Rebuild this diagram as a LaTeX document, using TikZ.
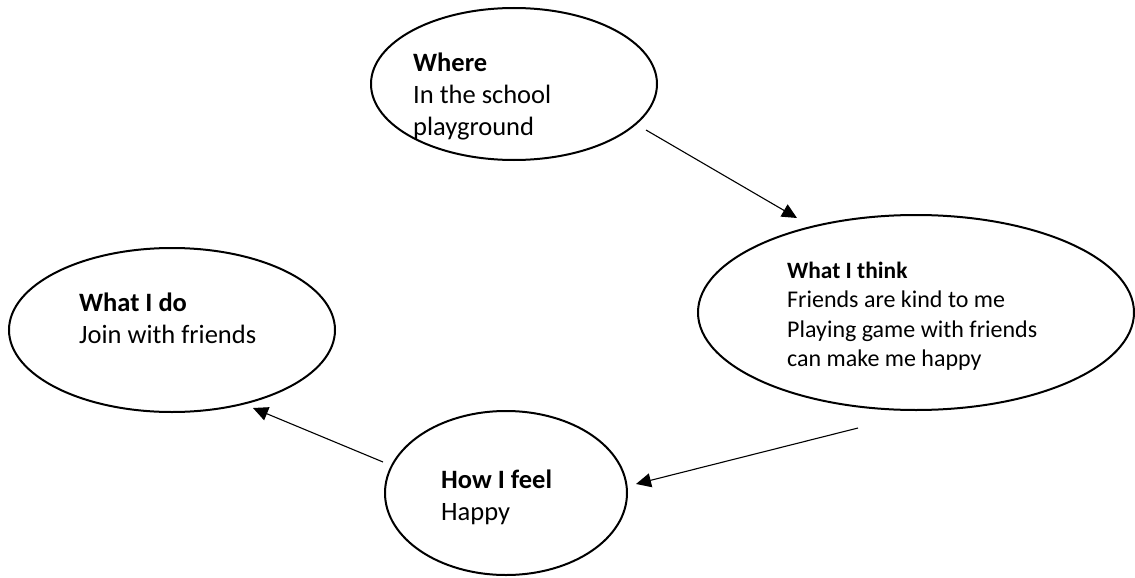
\documentclass[tikz,border=0pt]{standalone}
\usepackage{fontspec}
\setmainfont{Carlito}
\usetikzlibrary{shapes.geometric,arrows.meta}
\tikzset{
  bubble/.style={draw, ellipse, line width=2pt, inner sep=0pt},
  label/.style={anchor=base west, align=left, inner sep=0pt, font=\fontsize{26.5}{32}\selectfont},
  flow/.style={line width=1.1pt, -{Triangle[length=15pt,width=14pt]}}
}
\begin{document}
\begin{tikzpicture}[x=1pt,y=-1pt]
\useasboundingbox (0,0) rectangle (1135,578);
\node[bubble, minimum width=286pt, minimum height=152pt] (where) at (514,84) {};
\node[bubble, minimum width=436pt, minimum height=195pt] (think) at (916,312.5) {};
\node[bubble, minimum width=326pt, minimum height=164pt] (do) at (172,330) {};
\node[bubble, minimum width=242pt, minimum height=164pt] (feel) at (506,493) {};

\node[label, font=\fontsize{26.5}{31.5}\selectfont] (twhere) at (413,135) {\textbf{Where}\\In the school\\playground};
\node[label, font=\fontsize{24}{29.5}\selectfont] (tthink) at (787,366.8) {\textbf{\fontsize{23.4}{29.5}\selectfont What I think}\\Friends are kind to me\\Playing game with friends\\can make me happy};
\node[label] (tdo) at (79,343) {\textbf{What I do}\\Join with friends};
\node[label] (tfeel) at (441,520) {\textbf{How I feel}\\Happy};

\coordinate (a1s) at (646,130);
\coordinate (a1e) at (797,218);
\coordinate (a2s) at (858,428);
\coordinate (a2e) at (636,484);
\coordinate (a3s) at (383,462);
\coordinate (a3e) at (253,408);
\draw[flow] (a1s) -- (a1e);
\draw[flow] (a2s) -- (a2e);
\draw[flow] (a3s) -- (a3e);
\end{tikzpicture}
\end{document}
